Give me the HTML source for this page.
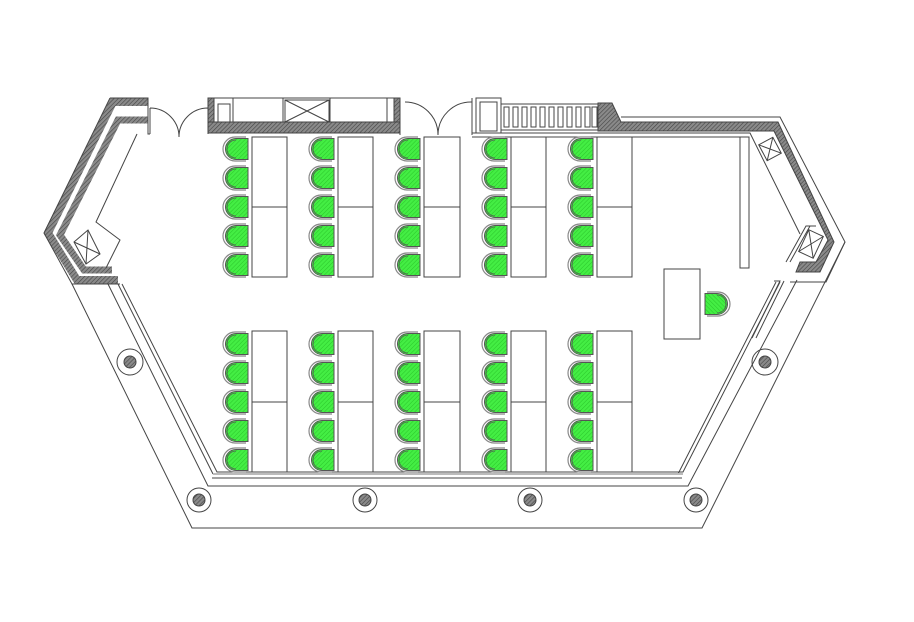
<!DOCTYPE html>
<html><head><meta charset="utf-8"><style>html,body{margin:0;padding:0;background:#fff}svg{display:block}</style></head>
<body>
<svg width="914" height="622" viewBox="0 0 914 622" xmlns="http://www.w3.org/2000/svg">
<defs>
<pattern id="h" width="3" height="3" patternUnits="userSpaceOnUse" patternTransform="rotate(45)"><rect width="3" height="3" fill="#8a8a8a"/><line x1="0" y1="0" x2="0" y2="3" stroke="#444" stroke-width="1.2"/></pattern>
<pattern id="g" width="3" height="3" patternUnits="userSpaceOnUse" patternTransform="rotate(45)"><rect width="3" height="3" fill="#44ee44"/><line x1="0" y1="0" x2="0" y2="3" stroke="#22bb22" stroke-width="0.8"/></pattern>
<g id="c">
<path d="M-2,-12 H-13 A12,12 0 0 0 -13,12 H-2" fill="none" stroke="#888" stroke-width="1.2"/>
<path d="M0,-10.5 H-12 A10.5,10.5 0 0 0 -12,10.5 H0 Z" fill="url(#g)" stroke="#555" stroke-width="1"/>
<path d="M-12,-9 A9,9 0 0 0 -12,9" fill="none" stroke="#555" stroke-width="0.8"/>
</g>
</defs>
<g fill="none" stroke="#444" stroke-width="1">
<!-- left hatched wall (double band) -->
<path d="M148,102 H113 L48,233 L77,280 H118" stroke="url(#h)" stroke-width="8" stroke-linejoin="miter"/>
<path d="M148,120 H118 L60,235 L84,270 H112" stroke="url(#h)" stroke-width="7" stroke-linejoin="miter"/>
<path d="M110,98 H148 V134 H150 M44,233 L110,98 M44,233 L72,284 H120"/>
<polygon points="74,242 88,230 100,254 86,264" fill="#fff"/>
<path d="M74,242 L100,254 M88,230 L86,264"/>
<path d="M137,134 L96,222 L120,240 L106,268"/>
<!-- diagonals -->
<path d="M72,284 L192,528 H702 L845,242"/>
<path d="M108,284 L208,486 H688 L797,280"/>
<path d="M118,284 L213,474 M122,284 L217,472 H683 L780,282 M776,282 L678,474"/>
<path d="M213,474 H683" stroke="#bbb" stroke-width="2"/>
<path d="M212,478 H682"/>
<!-- columns -->
<g>
<circle cx="199" cy="500" r="12"/><circle cx="199" cy="500" r="6" fill="url(#h)"/>
<circle cx="365" cy="500" r="12"/><circle cx="365" cy="500" r="6" fill="url(#h)"/>
<circle cx="530" cy="500" r="12"/><circle cx="530" cy="500" r="6" fill="url(#h)"/>
<circle cx="696" cy="500" r="12"/><circle cx="696" cy="500" r="6" fill="url(#h)"/>
<circle cx="130" cy="362" r="13"/><circle cx="130" cy="362" r="6" fill="url(#h)"/>
<circle cx="765" cy="362" r="13"/><circle cx="765" cy="362" r="6" fill="url(#h)"/>
</g>
<!-- top doors -->
<path d="M150,108 A29,29 0 0 1 179,137 M208,108 A29,29 0 0 0 179,137 M150,108 V134 M208,108 V134"/>
<path d="M405,102 A33,33 0 0 1 438,135 M472,102 A33,33 0 0 0 438,135"/>
<path d="M208,98 H400 V133 H208 Z"/>
<rect x="208" y="122" width="192" height="11" fill="url(#h)"/>
<rect x="208" y="98" width="6" height="24" fill="url(#h)"/>
<rect x="394" y="98" width="6" height="24" fill="url(#h)"/>
<rect x="218" y="104" width="12" height="18"/>
<rect x="233" y="98" width="50" height="24"/>
<rect x="285" y="100" width="44" height="22"/>
<path d="M285,100 L329,122 M329,100 L285,122"/>
<rect x="330" y="98" width="57" height="24"/>
<path d="M400,98 V135 M472,98 V135"/>
<rect x="476" y="98" width="25" height="35"/>
<rect x="480" y="102" width="17" height="29"/>
<rect x="501" y="104" width="97" height="26"/>
<g>
<rect x="504" y="107" width="5" height="20"/><rect x="513" y="107" width="5" height="20"/><rect x="522" y="107" width="5" height="20"/><rect x="531" y="107" width="5" height="20"/><rect x="540" y="107" width="5" height="20"/><rect x="549" y="107" width="5" height="20"/><rect x="558" y="107" width="5" height="20"/><rect x="567" y="107" width="5" height="20"/><rect x="576" y="107" width="5" height="20"/><rect x="585" y="107" width="5" height="20"/><rect x="592" y="107" width="5" height="20"/>
</g>
<!-- right hatched wall -->
<path d="M598,103 H612 L621,122 H778 L834,242 L820,272 H796 L800,262 H816 L828,240 L774,131 H598 Z" fill="url(#h)"/>
<path d="M621,117 H780 L845,242 L826,282 H790"/>
<path d="M472,133 H750 L800,234"/>
<path d="M472,137 H740"/>
<rect x="740" y="137" width="9" height="131"/>
<rect x="762" y="140" width="16" height="18" transform="rotate(-28 770 149)"/>
<path d="M762,140 L778,158 M778,140 L762,158" transform="rotate(-28 770 149)"/>
<rect x="803" y="232" width="16" height="24" transform="rotate(25 811 244)"/>
<path d="M803,232 L819,256 M819,232 L803,256" transform="rotate(25 811 244)"/>
<path d="M786,262 L806,226 L816,226 M790,262 L810,226"/>
<path d="M774,281 H780 L752,338 M784,281 L756,338"/>
<!-- teacher desk -->
<rect x="664" y="269" width="36" height="70"/>
<use href="#c" transform="translate(705,304) scale(-1,1)"/>
<!-- tables -->
<g>
<rect x="252" y="137" width="35" height="140"/><path d="M252,207 H287"/>
<rect x="338" y="137" width="35" height="140"/><path d="M338,207 H373"/>
<rect x="424" y="137" width="36" height="140"/><path d="M424,207 H460"/>
<rect x="511" y="137" width="35" height="140"/><path d="M511,207 H546"/>
<rect x="597" y="137" width="35" height="140"/><path d="M597,207 H632"/>
<rect x="252" y="331" width="35" height="141"/><path d="M252,402 H287"/>
<rect x="338" y="331" width="35" height="141"/><path d="M338,402 H373"/>
<rect x="424" y="331" width="36" height="141"/><path d="M424,402 H460"/>
<rect x="511" y="331" width="35" height="141"/><path d="M511,402 H546"/>
<rect x="597" y="331" width="35" height="141"/><path d="M597,402 H632"/>
</g>
</g>
<g>
<g id="col">
<use href="#c" transform="translate(248,149)"/><use href="#c" transform="translate(248,178)"/><use href="#c" transform="translate(248,207)"/><use href="#c" transform="translate(248,236)"/><use href="#c" transform="translate(248,265)"/>
<use href="#c" transform="translate(248,344)"/><use href="#c" transform="translate(248,373)"/><use href="#c" transform="translate(248,402)"/><use href="#c" transform="translate(248,431)"/><use href="#c" transform="translate(248,460)"/>
</g>
<use href="#col" x="86"/><use href="#col" x="172"/><use href="#col" x="259"/><use href="#col" x="345"/>
</g>
</svg>
</body></html>
